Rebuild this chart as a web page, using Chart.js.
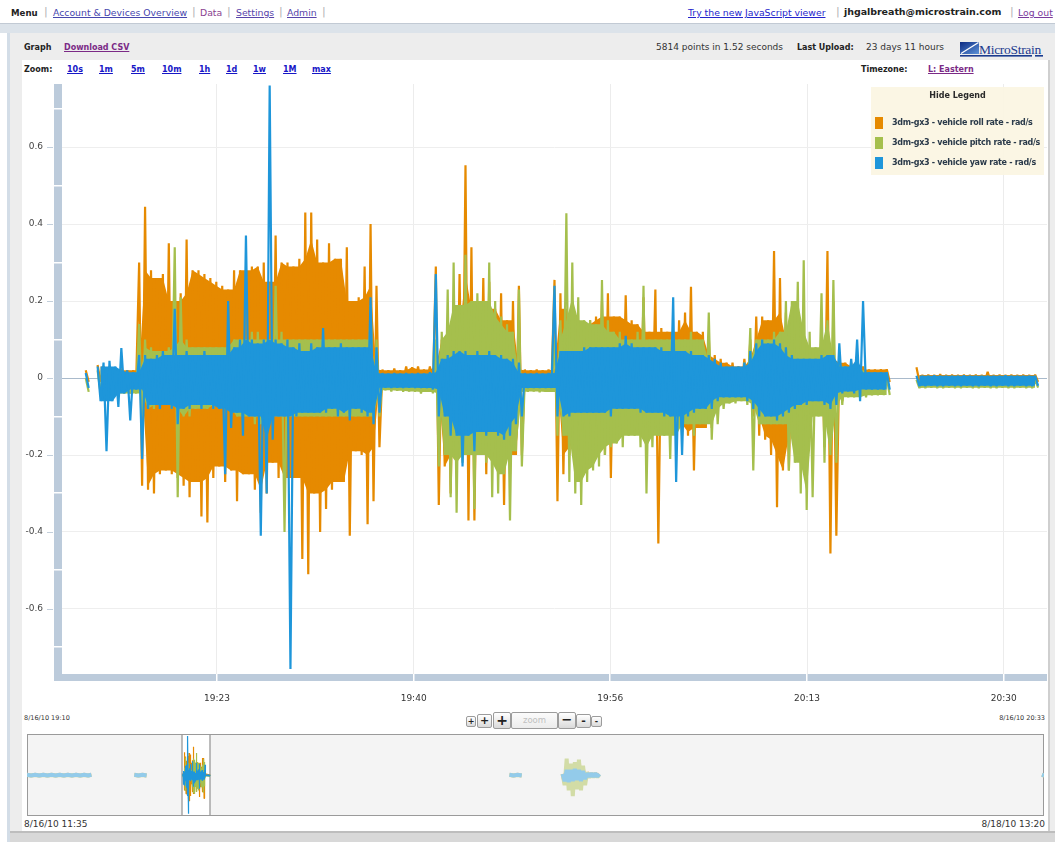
<!DOCTYPE html>
<html>
<head>
<meta charset="utf-8">
<title>Graph - 3dm-gx3 vehicle rates</title>
<script src="https://cdn.jsdelivr.net/npm/chart.js@4.4.1/dist/chart.umd.min.js"></script>
<style>
  html, body { margin: 0; padding: 0; }
  body {
    width: 1055px; height: 842px; position: relative; overflow: hidden;
    background: #fff; color: #222;
    font-family: "DejaVu Sans", Verdana, sans-serif;
  }
  .t { position: absolute; white-space: nowrap; line-height: 1; }
  .b { font-weight: bold; }
  .u { text-decoration: underline; }
  .nav { top: 8px; font-size: 9.3px; }
  .sep { color: #b4b4b4; font-size: 11px; top: 6px; }
  .hdr { top: 44px; font-size: 8px; font-weight: bold; }
  .hdrn { top: 43px; font-size: 9px; color: #333; }
  .zm { top: 66px; font-size: 8px; font-weight: bold; color: #1616c6; text-decoration: underline; }
  .band { position: absolute; left: 0; top: 23px; width: 1055px; height: 9px; background: #dce3ea; border-top: 1px solid #c2cad4; }
  .frame { position: absolute; left: 7px; top: 33px; width: 1048px; height: 809px; background: #ededed; border-left: 3px solid #d3dde7; box-sizing: border-box; }
  .bottomstrip { position: absolute; left: 10px; top: 831px; width: 1045px; height: 11px; background: #d8d8d8; border-top: 2px solid #bdbdbd; }
  .content { position: absolute; left: 22px; top: 60px; width: 1026px; height: 771px; background: #fff; border-right: 2px solid #cfcfcf; }
  .legend { position: absolute; left: 871px; top: 87px; width: 173px; height: 88px; background: rgba(251, 245, 227, 0.95); z-index: 5; }
  .zb {
    position: absolute; box-sizing: border-box; border: 1px solid #9c9c9c; border-radius: 2px;
    background: linear-gradient(#ffffff, #dadada); text-align: center; color: #222; font-weight: bold;
  }
  canvas { position: absolute; }
</style>
</head>
<body>

<!-- top navigation -->
<div class="t nav b" style="left:11px;font-size:8.6px;top:9px">Menu</div>
<div class="t sep" style="left:44px">|</div>
<div class="t nav u" style="left:53px;color:#4646ae">Account &amp; Devices Overview</div>
<div class="t sep" style="left:192px">|</div>
<div class="t nav" style="left:200px;color:#8a3f90">Data</div>
<div class="t sep" style="left:227px">|</div>
<div class="t nav u" style="left:236px;color:#5844aa">Settings</div>
<div class="t sep" style="left:279px">|</div>
<div class="t nav u" style="left:287px;color:#5844aa">Admin</div>
<div class="t sep" style="left:322px">|</div>

<div class="t nav u" style="left:688px;color:#2424cc">Try the new JavaScript viewer</div>
<div class="t sep" style="left:836px">|</div>
<div class="t nav b" style="left:844px;font-size:9.5px;letter-spacing:-0.05px;top:7px">jhgalbreath@microstrain.com</div>
<div class="t sep" style="left:1010px">|</div>
<div class="t nav u" style="left:1018px;color:#7a3a9c">Log out</div>

<div class="band"></div>
<div class="frame"></div>
<div class="bottomstrip"></div>
<div class="content"></div>

<!-- graph header -->
<div class="t hdr" style="left:24px">Graph</div>
<div class="t hdr u" style="left:64px;color:#7b2a86">Download CSV</div>
<div class="t hdrn" style="left:656px">5814 points in 1.52 seconds</div>
<div class="t hdr" style="left:797px">Last Upload:</div>
<div class="t hdrn" style="left:866px">23 days 11 hours</div>
<svg style="position:absolute;left:958px;top:40px" width="88" height="20">
  <defs>
    <linearGradient id="lg" x1="0" y1="0" x2="1" y2="1">
      <stop offset="0" stop-color="#0c2b83"/>
      <stop offset="1" stop-color="#5d92d8"/>
    </linearGradient>
  </defs>
  <rect x="2" y="2" width="19" height="12" fill="url(#lg)"/>
  <line x1="3" y1="13.5" x2="20.5" y2="2.5" stroke="#ffffff" stroke-width="1.3"/>
  <text x="21" y="13.5" font-family="Liberation Serif, serif" font-size="13.5" letter-spacing="-0.3" fill="#1b3a8e">MicroStrain</text>
  <rect x="2" y="15" width="72" height="1.6" fill="#1b3a8e"/>
  <rect x="77" y="15" width="8" height="1.6" fill="#1b3a8e"/>
</svg>

<!-- zoom presets and timezone -->
<div class="t hdr" style="left:24px;top:66px">Zoom:</div>
<div class="t zm" style="left:67px">10s</div>
<div class="t zm" style="left:99px">1m</div>
<div class="t zm" style="left:131px">5m</div>
<div class="t zm" style="left:162px">10m</div>
<div class="t zm" style="left:199px">1h</div>
<div class="t zm" style="left:226px">1d</div>
<div class="t zm" style="left:253px">1w</div>
<div class="t zm" style="left:283px">1M</div>
<div class="t zm" style="left:312px">max</div>
<div class="t hdr" style="left:861px;top:66px">Timezone:</div>
<div class="t zm" style="left:928px;color:#7b2a86">L: Eastern</div>

<canvas id="mainChart" width="1026" height="632" style="left:22px;top:80px;width:1026px;height:632px"></canvas>

<div class="legend" id="legend"></div>

<!-- range labels and zoom buttons -->
<div class="t" style="left:24px;top:715px;font-size:6.5px;color:#333">8/16/10 19:10</div>
<div class="t" style="right:10px;top:715px;font-size:6.5px;color:#333">8/16/10 20:33</div>

<div class="zb" style="left:466px;top:716px;width:10px;height:11px;font-size:8px;line-height:9px">+</div>
<div class="zb" style="left:477px;top:714px;width:15px;height:14px;font-size:11px;line-height:12px">+</div>
<div class="zb" style="left:493px;top:712px;width:18px;height:17px;font-size:14px;line-height:15px">+</div>
<div class="zb" style="left:511px;top:712px;width:47px;height:17px;font-size:8.5px;line-height:15px;color:#c0c0c0;font-weight:normal;background:linear-gradient(#fbfbfb,#ececec)">zoom</div>
<div class="zb" style="left:558px;top:712px;width:18px;height:17px;font-size:13px;line-height:14px">−</div>
<div class="zb" style="left:576px;top:714px;width:15px;height:14px;font-size:11px;line-height:12px">-</div>
<div class="zb" style="left:591px;top:716px;width:11px;height:11px;font-size:8px;line-height:9px">-</div>

<canvas id="overviewChart" width="1017" height="82" style="left:27px;top:734px;width:1017px;height:82px"></canvas>

<div class="t" style="left:24px;top:820px;font-size:9px;color:#333">8/16/10 11:35</div>
<div class="t" style="right:10px;top:820px;font-size:9px;color:#333">8/18/10 13:20</div>

<script>
// ---- series, one min/max pair per half-minute bucket (minutes past 19:00) ----
const sampleMinutes = [
  12,12.5,13,13.5,14,14.5,15,15.5,16,16.5,
  17,17.5,18,18.5,19,19.5,20,20.5,21,21.5,
  22,22.5,23,23.5,24,24.5,25,25.5,26,26.5,
  27,27.5,28,28.5,29,29.5,30,30.5,31,31.5,
  32,32.5,33,33.5,34,34.5,35,35.5,36,36.5,
  37,37.5,38,38.5,39,39.5,40,40.5,41,41.5,
  42,42.5,43,43.5,44,44.5,45,45.5,46,46.5,
  47,47.5,48,48.5,49,49.5,50,50.5,51,51.5,
  52,52.5,53,53.5,54,54.5,55,55.5,56,56.5,
  57,57.5,58,58.5,59,59.5,60,60.5,61,61.5,
  62,62.5,63,63.5,64,64.5,65,65.5,66,66.5,
  67,67.5,68,68.5,69,69.5,70,70.5,71,71.5,
  72,72.5,73,73.5,74,74.5,75,75.5,76,76.5,
  77,77.5,78,78.5,79,79.5,80,80.5,81,81.5,
  82,82.5,83,83.5,84,84.5,85,85.5,86,86.5,
  87,87.5,88,88.5,89,89.5,90,90.5,91,91.5,
  92
];

const rollHi = [
  0.02,null,0.034,0.03,0.03,0.025,0.025,0.02,0.02,0.30,
  0.445,0.28,0.26,0.27,0.35,0.20,0.22,0.36,0.28,0.28,
  0.27,0.26,0.25,0.24,0.23,0.28,0.28,0.28,0.29,0.29,
  0.30,0.25,0.37,0.30,0.30,0.29,0.31,0.43,0.43,0.36,
  0.30,0.35,0.31,0.31,0.34,0.20,0.21,0.29,0.40,0.24,
  0.022,0.02,0.025,0.02,0.03,0.028,0.03,0.022,0.03,0.29,
  0.10,0.12,0.12,0.27,0.553,0.34,0.18,0.26,0.25,0.18,
  0.22,0.15,0.20,0.24,0.022,0.02,0.022,0.02,0.022,0.255,
  0.22,0.18,0.18,0.15,0.14,0.15,0.16,0.20,0.22,0.16,
  0.16,0.215,0.15,0.14,0.21,0.12,0.23,0.13,0.12,0.12,
  0.15,0.17,0.237,0.12,0.12,0.11,0.06,0.05,0.04,0.04,
  0.03,0.05,0.10,0.16,0.16,0.15,0.33,0.26,0.17,0.10,
  0.08,0.08,0.07,0.06,0.12,0.33,0.20,0.05,0.04,0.04,
  0.03,0.03,0.022,0.022,0.023,0.023,null,null,null,null,
  0.028,0.008,0.009,0.008,0.010,0.008,0.009,0.008,0.009,0.008,
  0.009,0.008,0.016,0.008,0.009,0.008,0.009,0.008,0.009,0.008,
  0.009
];
const rollLo = [
  -0.01,null,-0.01,-0.02,-0.02,-0.02,-0.02,-0.01,-0.01,-0.28,
  -0.29,-0.30,-0.25,-0.24,-0.25,-0.26,-0.28,-0.31,-0.27,-0.36,
  -0.375,-0.26,-0.23,-0.27,-0.24,-0.32,-0.25,-0.25,-0.29,-0.35,
  -0.30,-0.22,-0.26,-0.29,-0.26,-0.26,-0.47,-0.51,-0.30,-0.40,
  -0.34,-0.29,-0.27,-0.27,-0.41,-0.19,-0.20,-0.38,-0.32,-0.18,
  -0.01,-0.01,-0.01,-0.01,-0.01,-0.01,-0.01,-0.01,-0.03,-0.33,
  -0.23,-0.30,-0.20,-0.20,-0.37,-0.37,-0.20,-0.25,-0.22,-0.20,
  -0.33,-0.25,-0.20,-0.20,-0.01,-0.01,-0.01,-0.01,-0.01,-0.32,
  -0.25,-0.20,-0.18,-0.15,-0.14,-0.14,-0.15,-0.20,-0.26,-0.15,
  -0.14,-0.13,-0.12,-0.13,-0.12,-0.09,-0.43,-0.12,-0.10,-0.12,
  -0.14,-0.15,-0.24,-0.13,-0.13,-0.13,-0.08,-0.05,-0.03,-0.03,
  -0.03,-0.04,-0.10,-0.15,-0.16,-0.20,-0.336,-0.24,-0.24,-0.15,
  -0.12,-0.12,-0.10,-0.08,-0.18,-0.456,-0.41,-0.06,-0.03,-0.03,
  -0.03,-0.02,-0.01,-0.01,-0.01,-0.01,null,null,null,null,
  -0.01,-0.01,-0.01,-0.01,-0.01,-0.01,-0.01,-0.01,-0.01,-0.01,
  -0.01,-0.01,-0.01,-0.01,-0.01,-0.01,-0.01,-0.01,-0.01,-0.01,
  -0.01
];

const pitchHi = [
  0,null,0.02,0.02,0.02,0.01,0.01,0,0,0.14,
  0.10,0.08,0.07,0.07,0.08,0.34,0.21,0.10,0.08,0.08,
  0.08,0.08,0.08,0.08,0.10,0.10,0.10,0.10,0.12,0.12,
  0.10,0.10,0.24,0.12,0.10,0.10,0.10,0.10,0.10,0.10,
  0.10,0.10,0.10,0.10,0.10,0.10,0.10,0.10,0.19,0.10,
  0,0,0,0,0,0,0,0,0.01,0.10,
  0.12,0.23,0.30,0.19,0.32,0.20,0.22,0.20,0.30,0.20,
  0.16,0.14,0.12,0.23,0,0,0,0,0,0.10,
  0.15,0.428,0.30,0.21,0.15,0.15,0.14,0.255,0.15,0.12,
  0.12,0.10,0.10,0.12,0.24,0.10,0.10,0.10,0.10,0.12,
  0.10,0.10,0.12,0.10,0.10,0.17,0.04,0.02,0.01,0.01,
  0.01,0.04,0.13,0.10,0.10,0.10,0.12,0.12,0.20,0.20,
  0.25,0.306,0.12,0.08,0.22,0.15,0.255,0.05,0.03,0.03,
  0.02,0.02,0,0,0,0,null,null,null,null,
  -0.005,-0.005,-0.005,-0.005,-0.005,-0.005,-0.005,-0.005,-0.005,-0.005,
  -0.005,-0.005,-0.005,-0.005,-0.005,-0.005,-0.005,-0.005,-0.005,-0.005,
  -0.005
];
const pitchLo = [
  -0.036,null,-0.04,-0.05,-0.05,-0.045,-0.04,-0.04,-0.04,-0.10,
  -0.08,-0.08,-0.07,-0.07,-0.08,-0.31,-0.10,-0.10,-0.08,-0.08,
  -0.08,-0.08,-0.07,-0.08,-0.10,-0.10,-0.10,-0.10,-0.12,-0.12,
  -0.10,-0.10,-0.10,-0.40,-0.10,-0.10,-0.10,-0.10,-0.10,-0.10,
  -0.10,-0.10,-0.10,-0.10,-0.10,-0.10,-0.10,-0.10,-0.10,-0.10,
  -0.032,-0.035,-0.033,-0.036,-0.035,-0.036,-0.04,-0.036,-0.04,-0.23,
  -0.20,-0.31,-0.35,-0.22,-0.20,-0.34,-0.20,-0.22,-0.31,-0.30,
  -0.25,-0.37,-0.19,-0.23,-0.036,-0.035,-0.037,-0.036,-0.036,-0.15,
  -0.15,-0.27,-0.30,-0.33,-0.27,-0.24,-0.23,-0.20,-0.18,-0.17,
  -0.18,-0.15,-0.15,-0.18,-0.30,-0.18,-0.15,-0.15,-0.21,-0.15,
  -0.15,-0.12,-0.15,-0.12,-0.12,-0.16,-0.12,-0.08,-0.066,-0.066,
  -0.06,-0.07,-0.24,-0.12,-0.12,-0.12,-0.12,-0.12,-0.24,-0.22,
  -0.30,-0.343,-0.31,-0.10,-0.22,-0.20,-0.22,-0.07,-0.05,-0.05,
  -0.05,-0.05,-0.045,-0.045,-0.044,-0.044,null,null,null,null,
  -0.026,-0.026,-0.025,-0.026,-0.026,-0.025,-0.026,-0.026,-0.025,-0.026,
  -0.026,-0.025,-0.026,-0.026,-0.025,-0.026,-0.026,-0.025,-0.026,-0.026,
  -0.025
];

const yawHi = [
  0.013,null,0.03,0.04,0.045,0.03,0.078,0.02,0.015,0.06,
  0.06,0.05,0.06,0.07,0.06,0.18,0.06,0.07,0.06,0.06,
  0.07,0.06,0.06,0.06,0.20,0.08,0.10,0.37,0.10,0.09,
  0.10,0.76,0.10,0.09,0.10,0.08,0.09,0.07,0.09,0.08,
  0.13,0.08,0.08,0.09,0.08,0.08,0.08,0.08,0.21,0.08,
  0.013,0.012,0.013,0.012,0.013,0.012,0.013,0.012,0.015,0.27,
  0.05,0.06,0.07,0.07,0.07,0.06,0.07,0.06,0.07,0.06,
  0.06,0.05,0.05,0.04,0.013,0.012,0.013,0.012,0.013,0.24,
  0.07,0.07,0.07,0.07,0.08,0.08,0.08,0.08,0.08,0.08,
  0.09,0.11,0.09,0.08,0.08,0.08,0.08,0.08,0.07,0.21,
  0.07,0.07,0.07,0.06,0.06,0.06,0.05,0.04,0.03,0.03,
  0.03,0.04,0.07,0.09,0.10,0.09,0.10,0.09,0.08,0.06,
  0.05,0.05,0.05,0.05,0.06,0.06,0.06,0.09,0.03,0.05,
  0.10,0.20,0.015,0.015,0.015,0.015,null,null,null,null,
  0.006,0.006,0.006,0.007,0.006,0.006,0.006,0.006,0.007,0.006,
  0.006,0.006,0.006,0.006,0.006,0.007,0.006,0.006,0.006,0.006,
  0.006
];
const yawLo = [
  -0.026,null,-0.06,-0.19,-0.06,-0.075,-0.04,-0.11,-0.03,-0.21,
  -0.08,-0.07,-0.08,-0.07,-0.08,-0.12,-0.08,-0.08,-0.07,-0.08,
  -0.07,-0.08,-0.08,-0.25,-0.13,-0.09,-0.15,-0.10,-0.10,-0.41,
  -0.30,-0.16,-0.10,-0.10,-0.756,-0.10,-0.09,-0.09,-0.09,-0.09,
  -0.09,-0.08,-0.10,-0.09,-0.11,-0.08,-0.09,-0.10,-0.12,-0.09,
  -0.025,-0.026,-0.025,-0.026,-0.025,-0.026,-0.026,-0.026,-0.03,-0.10,
  -0.10,-0.15,-0.15,-0.23,-0.15,-0.19,-0.14,-0.15,-0.14,-0.15,
  -0.16,-0.15,-0.12,-0.10,-0.026,-0.026,-0.026,-0.026,-0.026,-0.10,
  -0.10,-0.10,-0.09,-0.09,-0.09,-0.09,-0.09,-0.09,-0.10,-0.08,
  -0.08,-0.08,-0.08,-0.09,-0.09,-0.09,-0.09,-0.10,-0.10,-0.27,
  -0.20,-0.10,-0.09,-0.08,-0.08,-0.08,-0.06,-0.05,-0.05,-0.05,
  -0.05,-0.06,-0.08,-0.10,-0.10,-0.10,-0.11,-0.10,-0.09,-0.08,
  -0.07,-0.07,-0.06,-0.06,-0.07,-0.08,-0.07,-0.04,-0.035,-0.04,
  -0.06,-0.03,-0.03,-0.03,-0.03,-0.03,null,null,null,null,
  -0.021,-0.021,-0.020,-0.021,-0.021,-0.020,-0.021,-0.021,-0.020,-0.021,
  -0.021,-0.020,-0.021,-0.021,-0.020,-0.021,-0.021,-0.020,-0.021,-0.021,
  -0.020
];

const seriesNames = [
  '3dm-gx3 - vehicle roll rate - rad/s',
  '3dm-gx3 - vehicle pitch rate - rad/s',
  '3dm-gx3 - vehicle yaw rate - rad/s'
];
const seriesColors = ['#e68a00', '#a5bf4d', '#1e96da'];
const fadedColors = ['#f3cb92', '#d2dca6', '#93cbea'];

// axis ticks (minutes past 19:00 on the time axis)
const xTickValues = [23.06, 39.63, 56.2, 72.78, 89.35];
const xTickLabels = ['19:23', '19:40', '19:56', '20:13', '20:30'];
const yTickValues = [-0.6, -0.4, -0.2, 0, 0.2, 0.4, 0.6];
const yTickLabels = ['-0.6', '-0.4', '-0.2', '0', '0.2', '0.4', '0.6'];
const yMinorValues = [-0.7, -0.5, -0.3, -0.1, 0.1, 0.3, 0.5, 0.7];

// overview: hours since 8/16/10 11:35, activity outside the zoomed window
const ovHours = [
  0,0.2,0.4,0.6,0.8,1,1.2,1.4,1.6,1.8,2,2.2,2.4,2.6,2.8,3,3.15,
  4,
  5.25,5.45,5.65,5.85,
  6,
  23.6,23.8,24,24.2,
  25,
  26.2,26.3,26.4,26.5,26.6,26.7,26.8,26.9,27,27.1,27.2,27.3,27.4,27.5,27.6,27.7,27.8,27.9,28,
  29,
  49.65,49.75
];
const ovRoll = [
  0.004,-0.008,0.004,-0.008,0.004,-0.008,0.004,-0.008,0.004,-0.008,0.004,-0.008,0.004,-0.008,0.004,-0.008,0.004,
  null,
  0.004,-0.008,0.004,-0.008,
  null,
  0.004,-0.008,0.004,-0.008,
  null,
  0.02,-0.15,0.15,-0.20,0.12,-0.25,0.20,-0.20,0.25,-0.20,0.12,-0.10,0.05,-0.03,0.03,-0.02,0.03,-0.02,0.02,
  null,
  0.004,-0.008
];
const ovPitch = [
  0.002,-0.01,0.002,-0.01,0.002,-0.01,0.002,-0.01,0.002,-0.01,0.002,-0.01,0.002,-0.01,0.002,-0.01,0.002,
  null,
  0.002,-0.01,0.002,-0.01,
  null,
  0.002,-0.01,0.002,-0.01,
  null,
  0.02,-0.20,0.32,-0.30,0.22,-0.41,0.25,-0.28,0.30,-0.30,0.18,-0.20,0.05,-0.05,0.02,-0.04,0.02,-0.04,0.01,
  null,
  0.002,-0.01
];
const ovYaw = [
  0.005,-0.01,0.005,-0.01,0.005,-0.01,0.005,-0.01,0.005,-0.01,0.005,-0.01,0.005,-0.01,0.005,-0.01,0.005,
  null,
  0.005,-0.01,0.005,-0.01,
  null,
  0.005,-0.01,0.005,-0.01,
  null,
  0.02,-0.12,0.10,-0.14,0.10,-0.12,0.12,-0.10,0.10,-0.12,0.08,-0.08,0.03,-0.03,0.03,-0.03,0.03,-0.03,0.02,
  null,
  0.005,-0.01
];

const MAIN_MIN = 10, MAIN_MAX = 93;           // 19:10 .. 20:33
const OVERVIEW_SPAN_H = 49.75;                // 8/16 11:35 .. 8/18 13:20
const HOURS_TO_19H = 7 + 25 / 60;             // 11:35 -> 19:00
const HALF_STEP = 0.25;                       // second sample inside each half-minute bucket

Chart.defaults.font.family = '"DejaVu Sans", Verdana, sans-serif';

// each bucket contributes its max then its min, which draws the dense oscillation
function zigzag(hi, lo, toX) {
  const pts = [];
  sampleMinutes.forEach((m, i) => {
    if (hi[i] === null) { pts.push({ x: toX(m), y: null }); return; }
    pts.push({ x: toX(m), y: hi[i] });
    pts.push({ x: toX(m + HALF_STEP), y: lo[i] });
  });
  return pts;
}
// solid core of the trace: the extreme that neighbouring buckets all reach,
// so isolated spikes stay thin strokes above it
function core(values, pick) {
  return values.map((v, i) => {
    if (v === null) return null;
    const win = [values[i - 1], v, values[i + 1]].filter(u => u !== null && u !== undefined);
    return pick(...win);
  });
}
function edge(values, toX, shift) {
  return sampleMinutes.map((m, i) => ({ x: toX(m + shift), y: values[i] }));
}

const seriesHi = [rollHi, pitchHi, yawHi];
const seriesLo = [rollLo, pitchLo, yawLo];

// per series: filled core (upper edge filled down to lower edge) + zigzag stroke
function seriesDatasets(toX, lineWidth) {
  const out = [];
  seriesNames.forEach((name, k) => {
    const base = (3 - k) * 3;
    out.push({
      label: name + ' core max',
      data: edge(core(seriesHi[k], Math.min), toX, 0),
      borderWidth: 0, pointRadius: 0, spanGaps: false,
      backgroundColor: seriesColors[k],
      fill: '+1',
      order: base
    });
    out.push({
      label: name + ' core min',
      data: edge(core(seriesLo[k], Math.max), toX, HALF_STEP),
      borderWidth: 0, pointRadius: 0, spanGaps: false,
      fill: false,
      order: base - 1
    });
    out.push({
      label: name,
      data: zigzag(seriesHi[k], seriesLo[k], toX),
      borderColor: seriesColors[k],
      borderWidth: lineWidth,
      borderJoinStyle: 'bevel',
      pointRadius: 0, tension: 0, fill: false, spanGaps: false,
      order: base - 2
    });
  });
  return out;
}

// legend box
const legendEl = document.getElementById('legend');
legendEl.innerHTML = '<div class="t b" style="left:0;width:173px;top:5px;text-align:center;font-size:8px;color:#2a2a2a">Hide Legend</div>' +
  seriesNames.map((name, k) =>
    '<div style="position:absolute;left:4px;top:' + (30 + k * 20) + 'px;width:8px;height:12px;background:' + seriesColors[k] + '"></div>' +
    '<div class="t b" style="left:21px;top:' + (32 + k * 20) + 'px;font-size:8px;letter-spacing:-0.3px;color:#2a3a4a">' + name + '</div>'
  ).join('');

// light-blue axis bars with white notches, plus short tick marks on the value axis
const axisBars = {
  id: 'axisBars',
  beforeDatasetsDraw(chart) {
    const { ctx, chartArea: a, scales: { x, y } } = chart;
    ctx.save();
    ctx.fillStyle = '#bccbdb';
    ctx.fillRect(a.left - 8, a.top, 8, a.bottom - a.top + 7);
    ctx.fillRect(a.left - 8, a.bottom, a.right - a.left + 8, 7);
    ctx.fillStyle = '#ffffff';
    yMinorValues.forEach(v => {
      const py = Math.round(y.getPixelForValue(v));
      ctx.fillRect(a.left - 8, py - 1, 8, 1.5);
    });
    xTickValues.forEach(v => {
      const px = Math.round(x.getPixelForValue(v));
      ctx.fillRect(px - 1, a.bottom, 1.5, 7);
    });
    ctx.strokeStyle = '#c3cfdb';
    ctx.lineWidth = 1;
    yTickValues.forEach(v => {
      const py = Math.round(y.getPixelForValue(v)) + 0.5;
      ctx.beginPath();
      ctx.moveTo(a.left - 15, py);
      ctx.lineTo(a.left - 9, py);
      ctx.stroke();
    });
    ctx.restore();
  }
};

new Chart(document.getElementById('mainChart'), {
  type: 'line',
  data: { datasets: seriesDatasets(m => m, 2.2) },
  options: {
    responsive: false,
    animation: false,
    devicePixelRatio: 1,
    events: [],
    layout: { padding: { top: 4, right: 1, bottom: 0, left: 0 } },
    plugins: { legend: { display: false }, tooltip: { enabled: false } },
    scales: {
      x: {
        type: 'linear',
        min: MAIN_MIN,
        max: MAIN_MAX,
        afterBuildTicks: s => { s.ticks = xTickValues.map(v => ({ value: v })); },
        afterFit: s => { s.height = 38; s.paddingLeft = 0; s.paddingRight = 0; },
        ticks: {
          callback: (v, i) => xTickLabels[i],
          autoSkip: false, maxRotation: 0, padding: 19,
          color: '#333', font: { size: 9 }
        },
        grid: { color: '#ececec', drawTicks: false },
        border: { display: false }
      },
      y: {
        min: -0.769,
        max: 0.764,
        afterBuildTicks: s => { s.ticks = yTickValues.map(v => ({ value: v })); },
        afterFit: s => { s.width = 40; s.paddingTop = 0; s.paddingBottom = 0; },
        ticks: {
          callback: (v, i) => yTickLabels[i],
          padding: 19, color: '#444', font: { size: 9 }
        },
        grid: {
          color: c => (c.tick && c.tick.value === 0) ? '#a9bacb' : '#eeeeee',
          drawTicks: false
        },
        border: { display: false }
      }
    }
  },
  plugins: [axisBars]
});

// overview strip: grey backdrop, white window for the zoomed range
const overviewFrame = {
  id: 'overviewFrame',
  beforeDatasetsDraw(chart) {
    const { ctx, chartArea: a, scales: { x } } = chart;
    const x1 = Math.round(x.getPixelForValue(HOURS_TO_19H + MAIN_MIN / 60));
    const x2 = Math.round(x.getPixelForValue(HOURS_TO_19H + MAIN_MAX / 60));
    ctx.save();
    ctx.fillStyle = '#f4f4f4';
    ctx.fillRect(a.left, a.top, a.right - a.left, a.bottom - a.top);
    ctx.fillStyle = '#ffffff';
    ctx.fillRect(x1, a.top, x2 - x1, a.bottom - a.top);
    ctx.strokeStyle = '#a6a6a6';
    ctx.lineWidth = 1.5;
    [x1, x2].forEach(px => {
      ctx.beginPath(); ctx.moveTo(px, a.top); ctx.lineTo(px, a.bottom); ctx.stroke();
    });
    ctx.lineWidth = 1;
    ctx.strokeStyle = '#9a9a9a';
    ctx.strokeRect(a.left + 0.5, a.top + 0.5, a.right - a.left - 1, a.bottom - a.top - 1);
    ctx.restore();
  }
};

const ovSeries = [ovRoll, ovPitch, ovYaw];
new Chart(document.getElementById('overviewChart'), {
  type: 'line',
  data: {
    datasets: [
      ...seriesNames.map((name, k) => ({
        label: name,
        data: ovHours.map((h, i) => ({ x: h, y: ovSeries[k][i] })),
        borderColor: fadedColors[k],
        borderWidth: 4,
        borderJoinStyle: 'bevel',
        pointRadius: 0,
        spanGaps: false,
        order: 20 - k
      })),
      ...seriesDatasets(m => HOURS_TO_19H + m / 60, 1.2)
    ]
  },
  options: {
    responsive: false,
    animation: false,
    devicePixelRatio: 1,
    events: [],
    layout: { padding: 0 },
    plugins: { legend: { display: false }, tooltip: { enabled: false } },
    scales: {
      x: { type: 'linear', min: 0, max: OVERVIEW_SPAN_H, display: false },
      y: { min: -0.8, max: 0.8, display: false }
    }
  },
  plugins: [overviewFrame]
});
</script>
</body>
</html>
